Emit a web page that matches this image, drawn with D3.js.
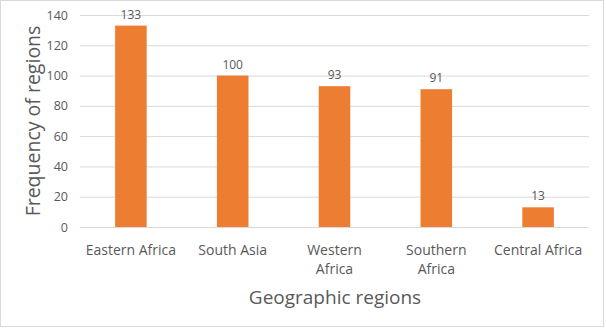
<!DOCTYPE html>
<html>
<head>
<meta charset="utf-8">
<script src="https://cdn.jsdelivr.net/npm/d3@7"></script>
<style>
  body { margin: 0; background: #fff; }
  text { font-family: "Open Sans", "Noto Sans", sans-serif; fill: #595959; }
</style>
</head>
<body>
<svg></svg>
<script>
// chart data
var regions = ["Eastern Africa", "South Asia", "Western Africa", "Southern Africa", "Central Africa"];
var frequency = [133, 100, 93, 91, 13];
var yTicks = [0, 20, 40, 60, 80, 100, 120, 140];

var svgWidth = 606;
var svgHeight = 329;
// note: "top" is reserved on window, so use chart* names
var chartLeft = 80, chartRight = 589, chartTop = 15, chartBottom = 227;

var svg = d3.select("svg")
    .attr("width", svgWidth)
    .attr("height", svgHeight);

// frame
svg.append("rect")
    .attr("x", 0.5).attr("y", 0.5)
    .attr("width", svgWidth - 3).attr("height", svgHeight - 3)
    .attr("fill", "white")
    .attr("stroke", "#d9d9d9");

var x = d3.scaleBand()
    .domain(regions)
    .range([chartLeft, chartRight])
    .paddingInner(0.69)
    .paddingOuter(0.345);

var y = d3.scaleLinear()
    .domain([0, 140])
    .range([chartBottom, chartTop]);

// gridlines
var yAxis = d3.axisLeft(y).tickValues(yTicks).tickSize(-(chartRight - chartLeft)).tickPadding(12);
var gy = svg.append("g")
    .attr("transform", "translate(" + chartLeft + ",0)")
    .call(yAxis);
gy.select(".domain").remove();
gy.selectAll(".tick line").attr("stroke", "#d9d9d9");
gy.selectAll(".tick text").style("font-size", "12.5px").attr("fill", "#595959");

// bars
svg.append("g")
    .selectAll(null)
    .data(frequency)
    .enter()
    .append("rect")
    .attr("x", function(d, i) { return x(regions[i]); })
    .attr("y", function(d) { return y(d); })
    .attr("width", x.bandwidth())
    .attr("height", function(d) { return y(0) - y(d); })
    .attr("fill", "#ed7d31");

// value labels
svg.append("g")
    .selectAll(null)
    .data(frequency)
    .enter()
    .append("text")
    .attr("text-anchor", "middle")
    .attr("x", function(d, i) { return x(regions[i]) + x.bandwidth() / 2; })
    .attr("y", function(d) { return y(d) - 7; })
    .style("font-size", "12px")
    .text(function(d) { return d; });

// category labels (wrap two-line ones like the original)
var labelLines = {
    "Western Africa": ["Western", "Africa"],
    "Southern Africa": ["Southern", "Africa"]
};
var cats = svg.append("g")
    .selectAll(null)
    .data(regions)
    .enter()
    .append("text")
    .attr("text-anchor", "middle")
    .attr("x", function(d) { return x(d) + x.bandwidth() / 2; })
    .attr("y", 255)
    .style("font-size", "14px");
cats.each(function(d) {
    var lines = labelLines[d] || [d];
    var t = d3.select(this);
    lines.forEach(function(l, k) {
        t.append("tspan")
            .attr("x", t.attr("x"))
            .attr("dy", k === 0 ? 0 : 19)
            .text(l);
    });
});

// axis titles
svg.append("text")
    .attr("text-anchor", "middle")
    .attr("x", 335)
    .attr("y", 304)
    .style("font-size", "19px")
    .text("Geographic regions");

svg.append("text")
    .attr("text-anchor", "middle")
    .attr("transform", "translate(40,121) rotate(-90)")
    .style("font-size", "19.5px")
    .text("Frequency of regions");
</script>
</body>
</html>
